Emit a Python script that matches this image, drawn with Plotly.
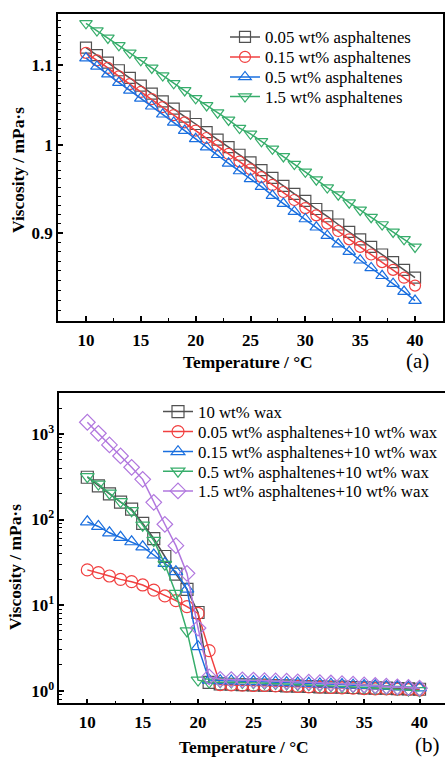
import math
import plotly.graph_objects as go

# ---------------- data ----------------
temperature = [10, 11, 12, 13, 14, 15, 16, 17, 18, 19, 20, 21, 22, 23, 24, 25,
               26, 27, 28, 29, 30, 31, 32, 33, 34, 35, 36, 37, 38, 39, 40]

# panel (a)
visc_a_005 = [1.123, 1.113, 1.103, 1.093, 1.083, 1.073, 1.063, 1.053, 1.044, 1.034, 1.025,
              1.015, 1.006, 0.997, 0.988, 0.979, 0.970, 0.961, 0.952, 0.943, 0.935,
              0.926, 0.918, 0.909, 0.901, 0.893, 0.885, 0.877, 0.869, 0.861, 0.853]
visc_a_015 = [1.116, 1.106, 1.096, 1.085, 1.075, 1.065, 1.056, 1.046, 1.036, 1.027, 1.017,
              1.008, 0.999, 0.989, 0.980, 0.971, 0.962, 0.953, 0.945, 0.936, 0.927,
              0.919, 0.910, 0.902, 0.893, 0.885, 0.877, 0.869, 0.861, 0.853, 0.845]
visc_a_05 = [1.109, 1.098, 1.088, 1.077, 1.067, 1.057, 1.047, 1.037, 1.027, 1.017, 1.007,
             0.997, 0.988, 0.978, 0.969, 0.960, 0.951, 0.941, 0.932, 0.923, 0.915,
             0.906, 0.897, 0.888, 0.880, 0.871, 0.863, 0.855, 0.847, 0.839, 0.830]
visc_a_15 = [1.156, 1.146, 1.136, 1.126, 1.116, 1.106, 1.096, 1.086, 1.076, 1.067, 1.057,
             1.048, 1.039, 1.030, 1.020, 1.013, 1.004, 0.995, 0.986, 0.977, 0.968,
             0.959, 0.950, 0.942, 0.933, 0.925, 0.917, 0.909, 0.901, 0.893, 0.885]

# panel (b)
visc_b_wax = [312, 247, 199, 160, 132, 90, 60, 37, 23, 15.3, 8.2,
              1.25, 1.20, 1.19, 1.18, 1.17, 1.16, 1.15, 1.14, 1.13, 1.12,
              1.11, 1.10, 1.10, 1.09, 1.08, 1.07, 1.07, 1.06, 1.05, 1.04]
visc_b_005 = [25.8, 24, 21.9, 20, 18.8, 17.2, 15, 12.8, 11.3, 9.6, 8.0,
              2.94, 1.18, 1.17, 1.16, 1.15, 1.15, 1.14, 1.13, 1.12, 1.11,
              1.10, 1.09, 1.08, 1.07, 1.06, 1.05, 1.05, 1.04, 1.03, 1.02]
visc_b_015 = [94, 83, 70, 62, 55, 48, 38.5, 30.8, 24.6, 15.4, 3.27,
              1.33, 1.31, 1.30, 1.29, 1.28, 1.27, 1.26, 1.24, 1.23, 1.22,
              1.20, 1.19, 1.18, 1.16, 1.15, 1.14, 1.12, 1.11, 1.10, 1.08]
visc_b_05 = [317, 260, 203, 162, 127, 86, 57, 30, 13.7, 5.0, 1.33,
             1.26, 1.27, 1.26, 1.25, 1.24, 1.22, 1.21, 1.20, 1.18, 1.17,
             1.15, 1.14, 1.12, 1.11, 1.09, 1.07, 1.06, 1.04, 1.02, 1.00]
visc_b_15 = [1370, 1018, 744, 553, 408, 295, 159, 88, 49.5, 23.5, 5.4,
             1.45, 1.36, 1.35, 1.34, 1.33, 1.31, 1.30, 1.29, 1.27, 1.26,
             1.24, 1.23, 1.21, 1.19, 1.17, 1.15, 1.13, 1.11, 1.09, 1.07]

names_a = ["0.05 wt% asphaltenes", "0.15 wt% asphaltenes",
           "0.5 wt% asphaltenes", "1.5 wt% asphaltenes"]
names_b = ["10 wt% wax", "0.05 wt% asphaltenes+10 wt% wax",
           "0.15 wt% asphaltenes+10 wt% wax", "0.5 wt% asphaltenes+10 wt% wax",
           "1.5 wt% asphaltenes+10 wt% wax"]

x_ticks = [10, 15, 20, 25, 30, 35, 40]
ya_ticks = [0.9, 1.0, 1.1]
ya_ticktext = ["0.9", "1", "1.1"]
yb_ticks = [1, 10, 100, 1000]
yb_ticktext = ["10<sup>0</sup>", "10<sup>1</sup>", "10<sup>2</sup>", "10<sup>3</sup>"]

# ---------------- style ----------------
W, H = 445, 757
FONT = "Times New Roman, Liberation Serif, serif"
c_black, c_red, c_blue, c_green, c_purple = "#515151", "#F14040", "#1A6FDF", "#37AD6B", "#B177DE"


def fx(p):
    return p / W


def fy(p):
    return 1 - p / H


fig = go.Figure()
legend_layout = {}
leg_font = dict(family=FONT, size=16.8, color="black")

# legend rows (pixel centres) for each panel
rows_a = [36, 56, 76, 95.7]
rows_b = [410.7, 430.7, 450.7, 470.3, 490]

idx = 0
for i, (vals, name, col, sym) in enumerate(zip(
        [visc_a_005, visc_a_015, visc_a_05, visc_a_15], names_a,
        [c_black, c_red, c_blue, c_green],
        ["square-open", "circle-open", "triangle-up-open", "triangle-down-open"])):
    idx += 1
    lname = "legend" if idx == 1 else "legend%d" % idx
    fig.add_trace(go.Scatter(
        x=temperature, y=vals, name=name, mode="lines+markers",
        line=dict(color=col, width=1.5),
        marker=dict(symbol=sym, size=11, color=col, line=dict(width=1.2)),
        xaxis="x", yaxis="y", legend=lname))
    legend_layout[lname] = dict(x=fx(225), y=fy(rows_a[i] - 16.5), xanchor="left", yanchor="top",
                                bgcolor="rgba(0,0,0,0)", font=leg_font, itemwidth=30)

for i, (vals, name, col, sym) in enumerate(zip(
        [visc_b_wax, visc_b_005, visc_b_015, visc_b_05, visc_b_15], names_b,
        [c_black, c_red, c_blue, c_green, c_purple],
        ["square-open", "circle-open", "triangle-up-open", "triangle-down-open", "diamond-open"])):
    idx += 1
    lname = "legend%d" % idx
    fig.add_trace(go.Scatter(
        x=temperature, y=vals, name=name, mode="lines+markers",
        line=dict(color=col, width=1.5),
        marker=dict(symbol=sym, size=12, color=col, line=dict(width=1.2)),
        xaxis="x2", yaxis="y2", legend=lname))
    legend_layout[lname] = dict(x=fx(158), y=fy(rows_b[i] - 16.5), xanchor="left", yanchor="top",
                                bgcolor="rgba(0,0,0,0)", font=leg_font, itemwidth=30)

tickfont = dict(family=FONT, size=17, color="black", weight="bold")
axis_common = dict(showline=True, linecolor="black", linewidth=1.5, showgrid=False,
                   zeroline=False, ticks="inside", ticklen=5, tickwidth=1.5,
                   tickcolor="black", tickfont=tickfont)

minor_a = [v / 100 for v in range(81, 117) if v not in (90, 100, 110)]
minor_b = [m * 10 ** d for d in range(-1, 4) for m in range(2, 10)]

fig.update_layout(
    width=W, height=H, margin=dict(l=0, r=0, t=0, b=0),
    paper_bgcolor="white", plot_bgcolor="white",
    font=dict(family=FONT, color="black"),
    xaxis=dict(domain=[fx(58), fx(443)], range=[7.45, 42.55], anchor="y",
               tickvals=x_ticks, mirror=True, ticklabelstandoff=3,
               minor=dict(tickvals=[12.5, 17.5, 22.5, 27.5, 32.5, 37.5], ticks="inside",
                          ticklen=3, tickwidth=1.2, tickcolor="black"),
               **axis_common),
    yaxis=dict(domain=[fy(321), fy(14)], type="log",
               range=[math.log10(0.81), math.log10(1.169)], anchor="x",
               tickvals=ya_ticks, ticktext=ya_ticktext, mirror=True,
               minor=dict(tickvals=minor_a, ticks="inside", ticklen=3, tickwidth=1.2,
                          tickcolor="black"),
               **axis_common),
    xaxis2=dict(domain=[fx(59.3), 1.0], range=[7.47, 42.3], anchor="y2",
                tickvals=x_ticks, mirror=True, ticklabelstandoff=3,
                minor=dict(tickvals=[12.5, 17.5, 22.5, 27.5, 32.5, 37.5], ticks="inside",
                           ticklen=3, tickwidth=1.2, tickcolor="black"),
                **axis_common),
    yaxis2=dict(domain=[fy(703.3), fy(393.3)], type="log", range=[-0.147, 3.475],
                anchor="x2", tickvals=yb_ticks, ticktext=yb_ticktext, mirror=False,
                minor=dict(tickvals=minor_b, ticks="inside", ticklen=3, tickwidth=1.2,
                           tickcolor="black"),
                **axis_common),
    showlegend=True,
    **legend_layout,
)

ann_font = dict(family=FONT, size=17.4, color="black", weight="bold")
fig.add_annotation(text="Temperature / °C", x=fx(248), y=fy(362), xref="paper", yref="paper",
                   showarrow=False, font=ann_font, xanchor="center", yanchor="middle")
fig.add_annotation(text="Viscosity / mPa·s", x=fx(18), y=fy(170), xref="paper", yref="paper",
                   showarrow=False, font=ann_font, textangle=-90, xanchor="center", yanchor="middle")
fig.add_annotation(text="(a)", x=fx(417), y=fy(361), xref="paper", yref="paper",
                   showarrow=False, font=dict(family=FONT, size=21, color="black"),
                   xanchor="center", yanchor="middle")
fig.add_annotation(text="Temperature / °C", x=fx(244), y=fy(747), xref="paper", yref="paper",
                   showarrow=False, font=ann_font, xanchor="center", yanchor="middle")
fig.add_annotation(text="Viscosity / mPa·s", x=fx(15), y=fy(567), xref="paper", yref="paper",
                   showarrow=False, font=ann_font, textangle=-90, xanchor="center", yanchor="middle")
fig.add_annotation(text="(b)", x=fx(427), y=fy(745), xref="paper", yref="paper",
                   showarrow=False, font=dict(family=FONT, size=21, color="black"),
                   xanchor="center", yanchor="middle")

fig.write_html("out.html", config={"displayModeBar": False},
               post_script="document.body.style.margin='0px';")
